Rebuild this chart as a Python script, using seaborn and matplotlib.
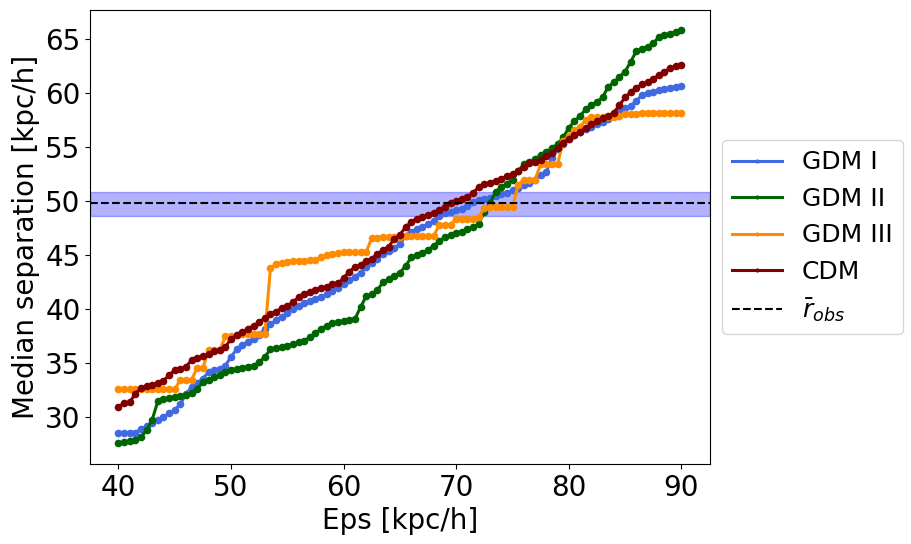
import numpy as np
import pandas as pd
import matplotlib
matplotlib.use("Agg")
import matplotlib.pyplot as plt
from matplotlib.ticker import MultipleLocator
import seaborn as sns

# eps grid, 0.5 kpc/h steps from 40 to 90
eps = np.arange(40, 90.01, 0.5)

gdm1 = [28.6, 28.6, 28.6, 28.6, 28.9, 29.2, 29.5, 29.8, 30.0, 30.4,
        30.7, 31.2, 32.2, 32.8, 33.2, 33.6, 34.2, 34.4, 34.5, 34.8,
        35.6, 36.3, 36.7, 37.0, 37.3, 37.6, 38.2, 38.6, 39.0, 39.3,
        39.7, 40.0, 40.3, 40.6, 40.8, 41.0, 41.1, 41.4, 41.7, 42.0,
        42.3, 42.7, 43.0, 43.4, 43.9, 44.3, 44.7, 45.1, 45.4, 45.7,
        46.0, 46.8, 47.2, 47.4, 47.6, 47.9, 48.2, 48.6, 48.9, 49.0,
        49.2, 49.3, 49.6, 49.9, 50.1, 50.2, 50.3, 50.5, 50.7, 50.8,
        51.0, 51.2, 51.5, 51.7, 52.0, 52.4, 52.7, 54.0, 54.8, 55.3,
        55.8, 56.1, 56.4, 56.7, 56.9, 57.1, 57.3, 57.6, 58.0, 58.4,
        58.6, 58.8, 59.3, 59.8, 60.0, 60.1, 60.3, 60.4, 60.5, 60.6,
        60.7]

gdm2 = [27.6, 27.7, 27.8, 27.9, 28.2, 28.8, 29.8, 31.5, 31.7, 31.8,
        31.9, 32.0, 32.1, 32.3, 32.6, 33.3, 33.5, 33.7, 33.9, 34.2,
        34.4, 34.5, 34.6, 34.7, 34.8, 35.1, 35.6, 36.3, 36.4, 36.5,
        36.6, 36.8, 37.0, 37.1, 37.4, 37.8, 38.2, 38.5, 38.7, 38.8,
        38.9, 39.0, 39.1, 40.2, 41.2, 41.4, 41.8, 42.5, 42.8, 43.1,
        43.4, 44.0, 44.8, 45.0, 45.2, 45.5, 45.9, 46.3, 46.7, 46.9,
        47.1, 47.2, 47.4, 47.6, 47.9, 49.0, 49.8, 50.9, 51.3, 51.6,
        52.0, 52.8, 53.4, 53.6, 53.9, 54.3, 54.6, 54.9, 55.3, 55.9,
        56.8, 57.4, 57.9, 58.5, 58.9, 59.2, 59.6, 60.6, 61.0, 61.5,
        62.0, 62.9, 63.9, 64.1, 64.3, 64.6, 65.2, 65.4, 65.5, 65.7,
        65.8]

gdm3 = [32.6, 32.6, 32.6, 32.6, 32.6, 32.6, 32.6, 32.6, 32.6, 32.6,
        32.6, 33.5, 33.5, 33.5, 34.6, 34.6, 36.2, 36.2, 36.2, 37.5,
        37.5, 37.6, 37.7, 37.7, 37.7, 37.7, 37.7, 43.8, 44.2, 44.3,
        44.4, 44.5, 44.5, 44.5, 44.6, 44.6, 44.8, 45.0, 45.1, 45.2,
        45.3, 45.3, 45.3, 45.3, 45.3, 46.6, 46.6, 46.7, 46.7, 46.7,
        46.7, 46.8, 46.8, 46.8, 46.8, 46.8, 46.8, 47.8, 47.8, 47.8,
        48.4, 48.4, 48.4, 48.4, 48.5, 49.4, 49.5, 49.5, 49.5, 49.5,
        49.5, 51.5, 52.0, 52.0, 52.0, 53.4, 53.4, 53.4, 53.4, 55.6,
        56.0, 56.6, 56.9, 57.5, 57.8, 57.8, 57.8, 57.8, 57.8, 57.9,
        58.1, 58.1, 58.1, 58.2, 58.2, 58.2, 58.2, 58.2, 58.2, 58.2,
        58.2]

cdm = [31.0, 31.3, 31.4, 32.2, 32.7, 32.9, 33.0, 33.2, 33.4, 33.9,
       34.4, 34.5, 34.7, 35.3, 35.5, 35.7, 35.9, 36.1, 36.2, 36.5,
       37.3, 37.6, 37.9, 38.2, 38.5, 38.8, 39.2, 39.6, 39.8, 40.1,
       40.3, 40.7, 41.1, 41.4, 41.6, 41.8, 42.0, 42.1, 42.3, 42.4,
       42.9, 43.5, 43.9, 44.1, 44.5, 44.7, 45.1, 45.5, 45.8, 46.5,
       46.9, 47.6, 48.1, 48.4, 48.5, 48.7, 48.9, 49.2, 49.5, 49.8,
       50.0, 50.2, 50.4, 50.8, 51.3, 51.6, 51.7, 51.9, 52.1, 52.3,
       52.5, 52.8, 53.2, 53.5, 53.6, 53.8, 54.2, 54.5, 54.9, 55.4,
       55.8, 56.1, 56.4, 56.8, 57.1, 57.4, 57.7, 57.9, 58.2, 58.9,
       59.6, 60.1, 60.5, 60.8, 61.0, 61.3, 61.7, 62.0, 62.3, 62.5,
       62.6]

r_obs = 49.8
r_obs_lo = 48.6
r_obs_hi = 50.9

labels = ['GDM I', 'GDM II', 'GDM III', 'CDM']
colors = ['royalblue', 'darkgreen', 'darkorange', 'maroon']

df = pd.DataFrame({'eps': np.tile(eps, 4),
                   'sep': gdm1 + gdm2 + gdm3 + cdm,
                   'model': np.repeat(labels, len(eps))})

fig = plt.figure(figsize=(9.12, 5.44), dpi=100)
ax = fig.add_axes([0.099, 0.147, 0.679, 0.835])

for lab, col in zip(labels, colors):
    sub = df[df['model'] == lab]
    sns.lineplot(x='eps', y='sep', data=sub, ax=ax, color=col, label=lab,
                 marker='o', markersize=5.5, markeredgewidth=0, linewidth=2.2)

ax.axhspan(r_obs_lo, r_obs_hi, color='blue', alpha=0.3)
ax.axhline(r_obs, color='black', linestyle='--', linewidth=1.5,
           label=r'$\bar{r}_{obs}$')

ax.yaxis.set_major_locator(MultipleLocator(5))
ax.set_xlabel('Eps [kpc/h]', fontsize=20)
ax.set_ylabel('Median separation [kpc/h]', fontsize=20)
ax.tick_params(labelsize=20)

leg = ax.legend(loc='center left', bbox_to_anchor=(1.0, 0.5), fontsize=18)
for h in leg.legend_handles[:4]:
    h.set_markersize(3)

plt.savefig('out.png', dpi=100)
